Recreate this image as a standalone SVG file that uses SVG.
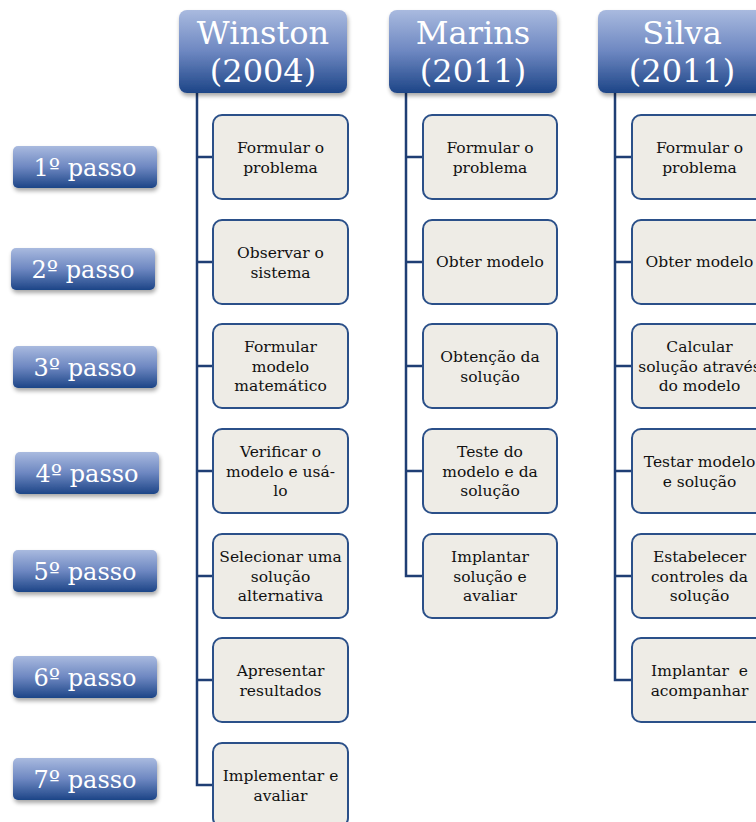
<svg xmlns="http://www.w3.org/2000/svg" width="756" height="822" viewBox="0 0 756 822">
<defs>
<linearGradient id="hg" x1="0" y1="0" x2="0" y2="1">
<stop offset="0" stop-color="#a9badf"/>
<stop offset="0.5" stop-color="#6d87c1"/>
<stop offset="1" stop-color="#1d4587"/>
</linearGradient>
<filter id="sh" x="-10%" y="-10%" width="125%" height="135%">
<feGaussianBlur in="SourceAlpha" stdDeviation="2"/>
<feOffset dx="1" dy="3" result="b"/>
<feComponentTransfer><feFuncA type="linear" slope="0.35"/></feComponentTransfer>
<feMerge><feMergeNode/><feMergeNode in="SourceGraphic"/></feMerge>
</filter>
</defs>
<style>
.hd{fill:url(#hg);filter:url(#sh)}
.ht{font-family:"DejaVu Serif","Liberation Serif",serif;font-size:32px;fill:#ffffff;text-anchor:middle}
.pt{font-family:"DejaVu Serif","Liberation Serif",serif;font-size:24px;fill:#ffffff;text-anchor:middle}
.bx{fill:#eeece6;stroke:#2b5089;stroke-width:2}
.bt{font-family:"DejaVu Serif","Liberation Serif",serif;font-size:15.5px;fill:#111111;text-anchor:middle;white-space:pre}
.ln{fill:none;stroke:#1f3e74;stroke-width:2.5}
</style>
<g id="connectors">
<path class="ln" d="M197,93 V785 H213 M197,157 H213 M197,262 H213 M197,366 H213 M197,471 H213 M197,576 H213 M197,680 H213"/>
<path class="ln" d="M406,93 V576 H423 M406,157 H423 M406,262 H423 M406,366 H423 M406,471 H423"/>
<path class="ln" d="M615,93 V680 H632 M615,157 H632 M615,262 H632 M615,366 H632 M615,471 H632 M615,576 H632"/>
</g>
<g id="h-winston"><rect class="hd" x="179" y="10" width="168" height="83" rx="8"/><text class="ht" x="263" y="44">Winston</text><text class="ht" x="263" y="82">(2004)</text></g>
<g id="h-marins"><rect class="hd" x="389" y="10" width="168" height="83" rx="8"/><text class="ht" x="473" y="44">Marins</text><text class="ht" x="473" y="82">(2011)</text></g>
<g id="h-silva"><rect class="hd" x="598" y="10" width="168" height="83" rx="8"/><text class="ht" x="682" y="44">Silva</text><text class="ht" x="682" y="82">(2011)</text></g>
<g id="p1"><rect class="hd" x="13" y="146" width="144" height="42" rx="5"/><text class="pt" x="85" y="176">1º passo</text></g>
<g id="p2"><rect class="hd" x="11" y="248" width="144" height="42" rx="5"/><text class="pt" x="83" y="278">2º passo</text></g>
<g id="p3"><rect class="hd" x="13" y="346" width="144" height="42" rx="5"/><text class="pt" x="85" y="376">3º passo</text></g>
<g id="p4"><rect class="hd" x="15" y="452" width="144" height="42" rx="5"/><text class="pt" x="87" y="482">4º passo</text></g>
<g id="p5"><rect class="hd" x="13" y="550" width="144" height="42" rx="5"/><text class="pt" x="85" y="580">5º passo</text></g>
<g id="p6"><rect class="hd" x="13" y="656" width="144" height="42" rx="5"/><text class="pt" x="85" y="686">6º passo</text></g>
<g id="p7"><rect class="hd" x="13" y="758" width="144" height="42" rx="5"/><text class="pt" x="85" y="788">7º passo</text></g>
<g id="w1"><rect class="bx" x="213" y="115" width="135" height="84" rx="9"/><text class="bt" x="280.5" y="153">Formular o</text><text class="bt" x="280.5" y="173">problema</text></g>
<g id="w2"><rect class="bx" x="213" y="220" width="135" height="84" rx="9"/><text class="bt" x="280.5" y="258">Observar o</text><text class="bt" x="280.5" y="278">sistema</text></g>
<g id="w3"><rect class="bx" x="213" y="324" width="135" height="84" rx="9"/><text class="bt" x="280.5" y="352">Formular</text><text class="bt" x="280.5" y="372">modelo</text><text class="bt" x="280.5" y="391">matemático</text></g>
<g id="w4"><rect class="bx" x="213" y="429" width="135" height="84" rx="9"/><text class="bt" x="280.5" y="457">Verificar o</text><text class="bt" x="280.5" y="477">modelo e usá-</text><text class="bt" x="280.5" y="496">lo</text></g>
<g id="w5"><rect class="bx" x="213" y="534" width="135" height="84" rx="9"/><text class="bt" x="280.5" y="562">Selecionar uma</text><text class="bt" x="280.5" y="582">solução</text><text class="bt" x="280.5" y="601">alternativa</text></g>
<g id="w6"><rect class="bx" x="213" y="638" width="135" height="84" rx="9"/><text class="bt" x="280.5" y="676">Apresentar</text><text class="bt" x="280.5" y="696">resultados</text></g>
<g id="w7"><rect class="bx" x="213" y="743" width="135" height="84" rx="9"/><text class="bt" x="280.5" y="781">Implementar e</text><text class="bt" x="280.5" y="801">avaliar</text></g>
<g id="m1"><rect class="bx" x="423" y="115" width="134" height="84" rx="9"/><text class="bt" x="490" y="153">Formular o</text><text class="bt" x="490" y="173">problema</text></g>
<g id="m2"><rect class="bx" x="423" y="220" width="134" height="84" rx="9"/><text class="bt" x="490" y="267">Obter modelo</text></g>
<g id="m3"><rect class="bx" x="423" y="324" width="134" height="84" rx="9"/><text class="bt" x="490" y="362">Obtenção da</text><text class="bt" x="490" y="382">solução</text></g>
<g id="m4"><rect class="bx" x="423" y="429" width="134" height="84" rx="9"/><text class="bt" x="490" y="457">Teste do</text><text class="bt" x="490" y="477">modelo e da</text><text class="bt" x="490" y="496">solução</text></g>
<g id="m5"><rect class="bx" x="423" y="534" width="134" height="84" rx="9"/><text class="bt" x="490" y="562">Implantar</text><text class="bt" x="490" y="582">solução e</text><text class="bt" x="490" y="601">avaliar</text></g>
<g id="s1"><rect class="bx" x="632" y="115" width="135" height="84" rx="9"/><text class="bt" x="699.5" y="153">Formular o</text><text class="bt" x="699.5" y="173">problema</text></g>
<g id="s2"><rect class="bx" x="632" y="220" width="135" height="84" rx="9"/><text class="bt" x="699.5" y="267">Obter modelo</text></g>
<g id="s3"><rect class="bx" x="632" y="324" width="135" height="84" rx="9"/><text class="bt" x="699.5" y="352">Calcular</text><text class="bt" x="699.5" y="372">solução através</text><text class="bt" x="699.5" y="391">do modelo</text></g>
<g id="s4"><rect class="bx" x="632" y="429" width="135" height="84" rx="9"/><text class="bt" x="699.5" y="467">Testar modelo</text><text class="bt" x="699.5" y="487">e solução</text></g>
<g id="s5"><rect class="bx" x="632" y="534" width="135" height="84" rx="9"/><text class="bt" x="699.5" y="562">Estabelecer</text><text class="bt" x="699.5" y="582">controles da</text><text class="bt" x="699.5" y="601">solução</text></g>
<g id="s6"><rect class="bx" x="632" y="638" width="135" height="84" rx="9"/><text class="bt" x="699.5" y="676">Implantar  e</text><text class="bt" x="699.5" y="696">acompanhar</text></g>
</svg>
